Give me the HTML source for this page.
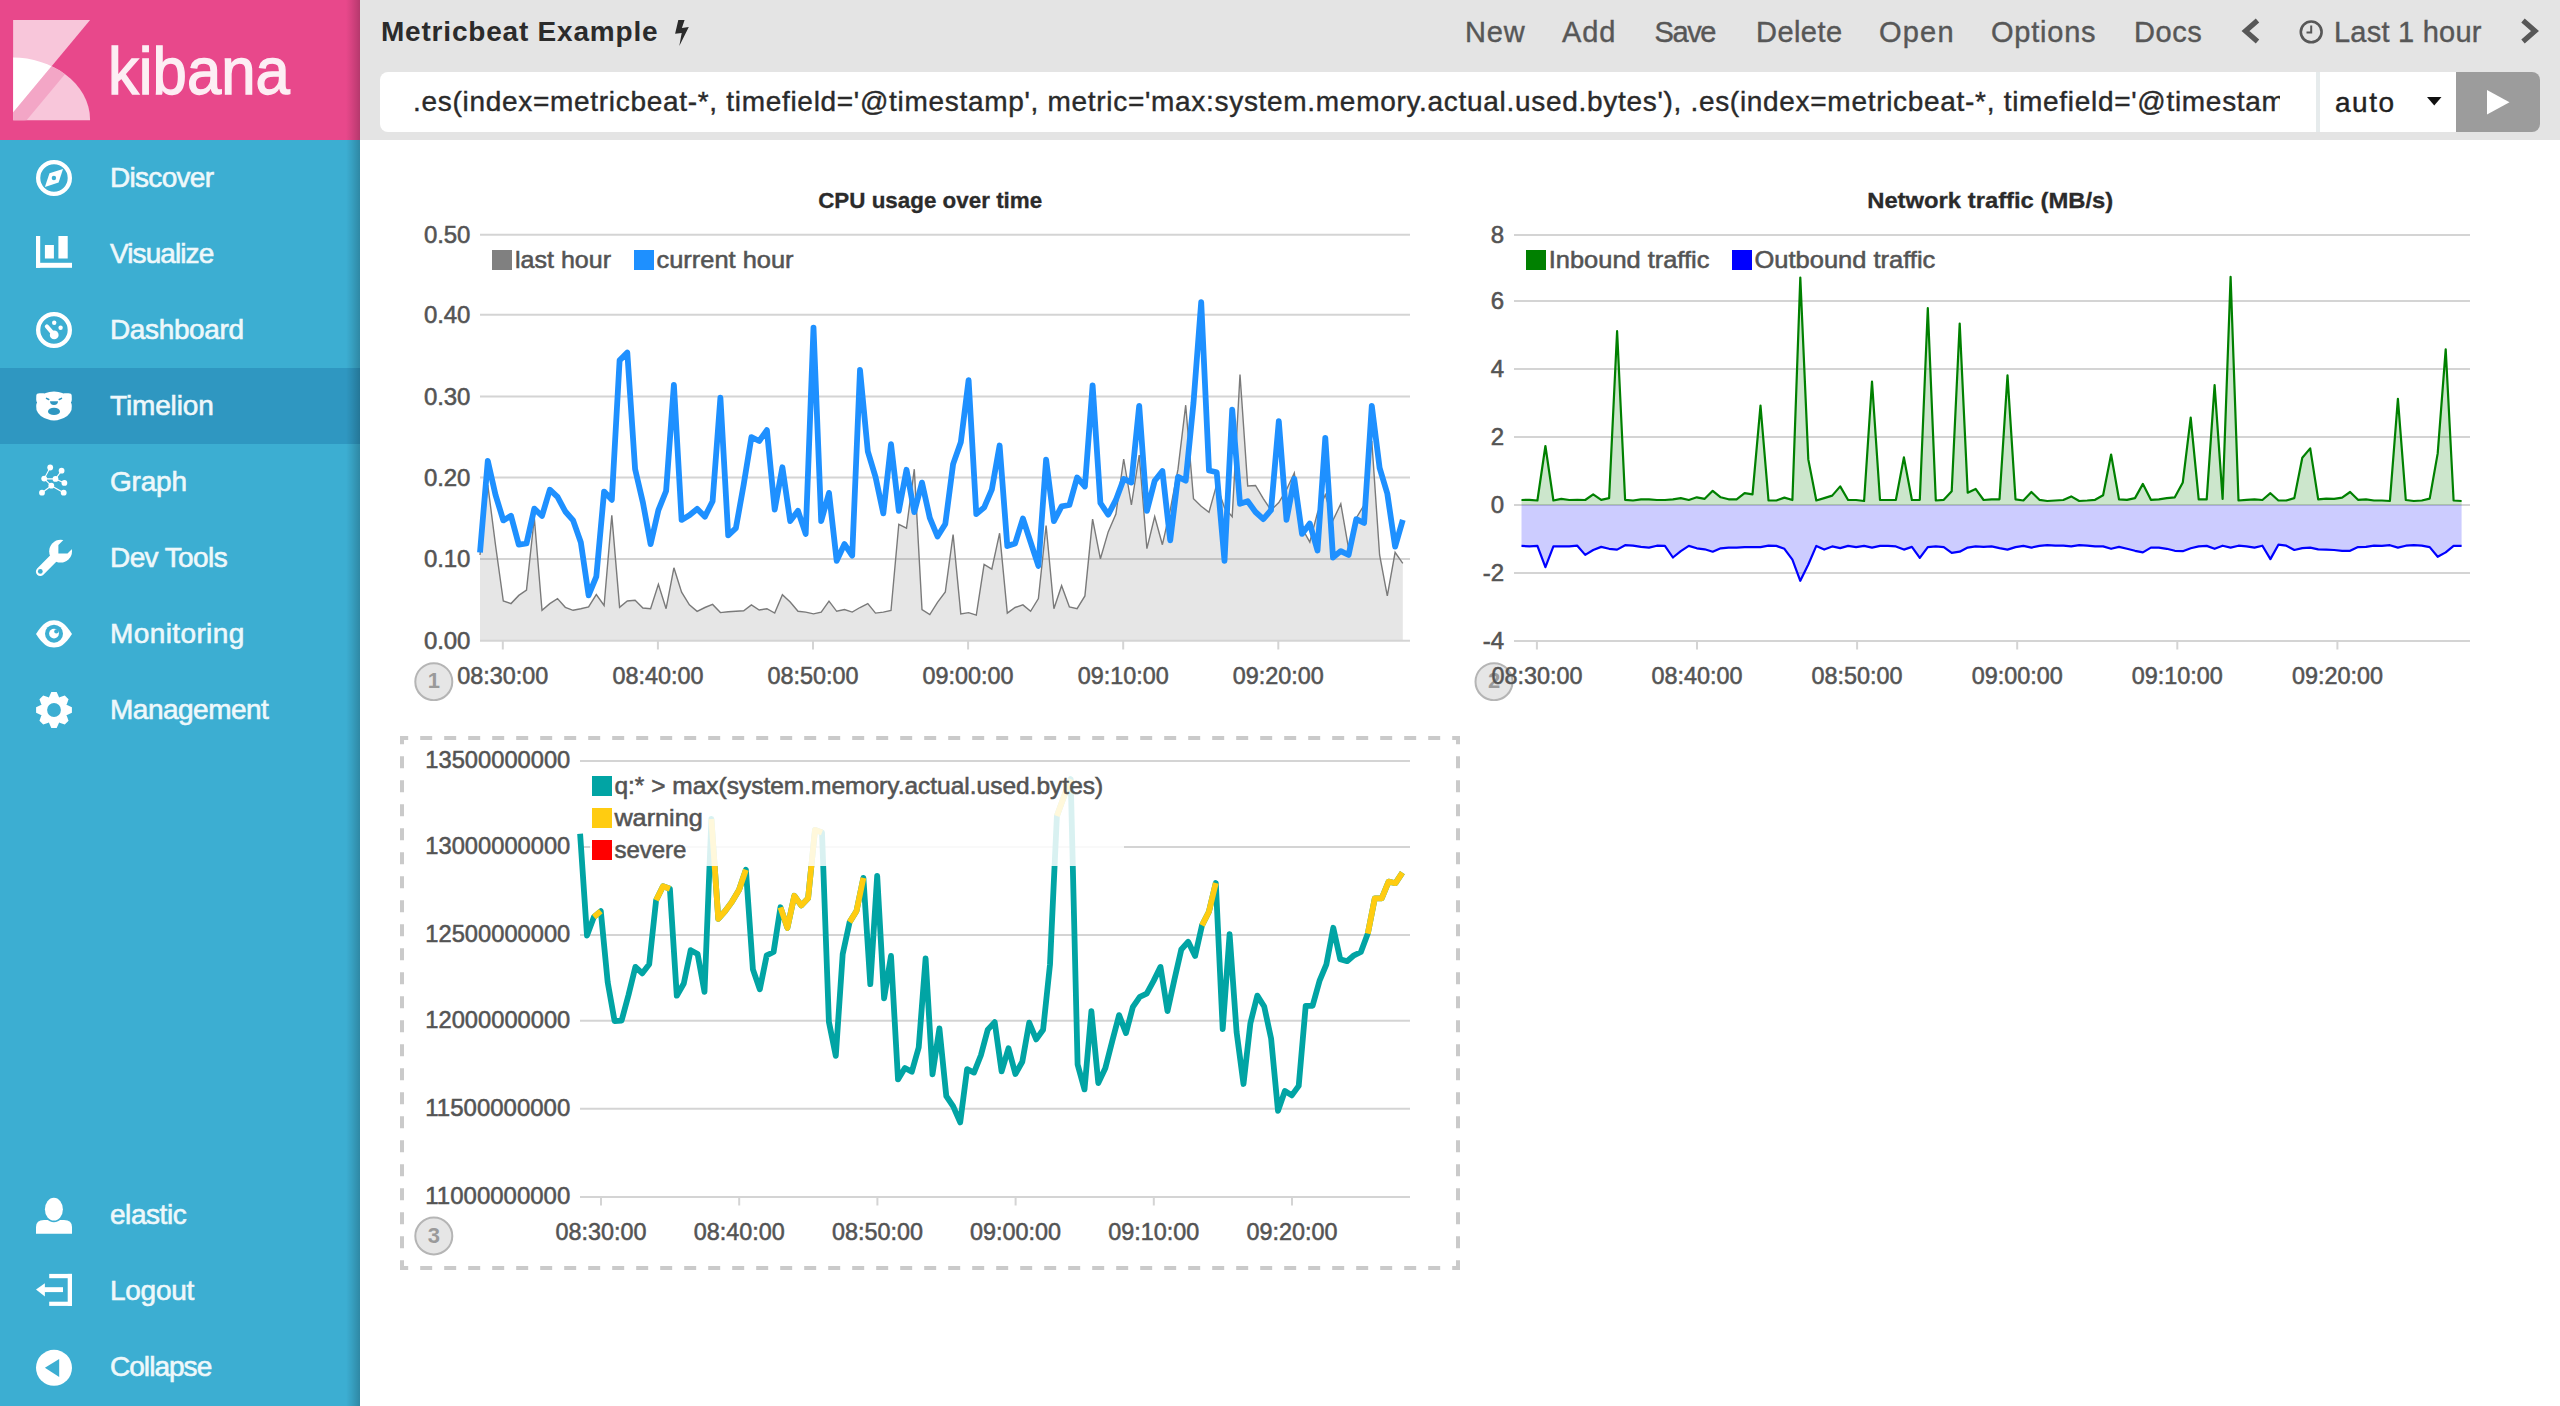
<!DOCTYPE html><html><head><meta charset="utf-8"><title>Timelion - Kibana</title><style>
*{box-sizing:border-box;margin:0;padding:0}
html,body{width:2560px;height:1406px;overflow:hidden;background:#fff;font-family:"Liberation Sans", Arial, sans-serif}
.nav{position:absolute;left:0;top:0;width:360px;height:1406px;background:#3caed2}
.nav .shadow{position:absolute;right:0;top:0;width:14px;height:1406px;background:linear-gradient(to right,rgba(0,0,0,0),rgba(0,0,0,0.08) 40%,rgba(0,0,0,0.22))}
.logo{position:absolute;left:0;top:0;width:360px;height:140px;background:#e8488b}
.logo .txt{position:absolute;left:108px;top:37.5px;font-size:66px;color:#fdeef4;letter-spacing:0px;line-height:1;-webkit-text-stroke:1.4px #fdeef4;transform:scaleX(0.935);transform-origin:0 0}
.item{position:absolute;left:0;width:360px;height:76px;color:#eef8fb;font-size:28px;letter-spacing:-1px;-webkit-text-stroke:0.6px #eef8fb}
.item.active{background:#2f97c1}
.item .lbl{position:absolute;left:110px;top:20.7px;line-height:34px;white-space:nowrap}
.item svg{position:absolute;left:36px;top:20px}
.top{position:absolute;left:360px;top:0;width:2200px;height:140px;background:#e4e4e4}
.title{position:absolute;left:381px;top:15px;font-size:28px;font-weight:bold;color:#2b2b2b;letter-spacing:0.8px;line-height:34px;white-space:nowrap}
.menu{position:absolute;top:15.2px;font-size:29px;color:#575757;-webkit-text-stroke:0.4px #575757;line-height:34px;white-space:nowrap}
.inp{position:absolute;left:380px;top:72px;width:1936px;height:60px;background:#fff;border-radius:8px 0 0 8px;overflow:hidden}
.inp .t{position:absolute;left:33px;top:13px;width:1867px;overflow:hidden;white-space:nowrap;font-size:28px;letter-spacing:0.7px;color:#2a2a2a;line-height:34px;-webkit-text-stroke:0.4px #2a2a2a}
.sep{position:absolute;left:2316px;top:72px;width:4px;height:60px;background:#e6ebec}
.sel{position:absolute;left:2320px;top:72px;width:136px;height:60px;background:#fff}
.sel .t{position:absolute;left:15px;top:14px;font-size:28px;letter-spacing:1.5px;color:#222;-webkit-text-stroke:0.4px #222;line-height:34px}
.btn{position:absolute;left:2456px;top:72px;width:84px;height:60px;background:#9c9c9c;border-radius:0 8px 8px 0}
.ct{position:absolute;font-weight:bold;font-size:22px;color:#2b2b2b;white-space:nowrap;letter-spacing:0.2px;line-height:26px}
.yl{position:absolute;font-size:24px;color:#545454;white-space:nowrap;line-height:28px;text-align:right;letter-spacing:-0.2px}
.xl{position:absolute;font-size:24px;color:#545454;white-space:nowrap;line-height:28px;letter-spacing:-0.2px}
.lg{position:absolute;font-size:24px;color:#545454;white-space:nowrap;line-height:28px}
.sw{position:absolute;width:20px;height:20px}
.num{position:absolute;width:40px;height:40px;border-radius:50%;border:2px solid #b8b8b8;background:#e6e6e6;color:#999;font-weight:bold;font-size:22px;text-align:center;line-height:36px}
.dash{position:absolute;left:400px;top:736px;width:1060px;height:534px;border:4px dashed #cacaca}
</style></head><body>
<div class="nav">
<div class="logo"><svg style="position:absolute;left:0;top:0" width="100" height="130" viewBox="0 0 100 130">
<defs><clipPath id="arc"><path d="M13.1,57.6 C50,57.6 90.1,82 90.1,120.2 L13.1,120.2 Z"/></clipPath></defs>
<polygon points="13.1,20 90.1,20 13.1,112.4" fill="#f8c6da"/>
<path d="M13.1,57.6 C50,57.6 90.1,82 90.1,120.2 L13.1,120.2 Z" fill="#f8c6da"/>
<g clip-path="url(#arc)"><polygon points="13.1,20 90.1,20 13.1,112.4" fill="#ffffff"/>
<polygon points="90.1,20 13.1,112.4 13.1,125 26.6,120.2 103.6,27.8" fill="#f3a6c6"/></g>
</svg><div class="txt">kibana</div></div>
<div class="item" style="top:140px"><svg width="36" height="36" viewBox="0 0 36 36" style="top:20px;overflow:visible"><circle cx="18" cy="18" r="15.85" fill="none" stroke="#ffffff" stroke-width="4.3"/><polygon points="27,9.1 22.6,22.5 8.9,27 13.5,13.2" fill="#ffffff"/><circle cx="17.9" cy="18" r="2.2" fill="#3caed2"/></svg><div class="lbl" style="letter-spacing:-0.7px">Discover</div></div>
<div class="item" style="top:216px"><svg width="36" height="36" viewBox="0 0 36 36" style="top:20px;overflow:visible"><rect x="0" y="0" width="4.2" height="31.8" fill="#ffffff"/><rect x="0" y="26.8" width="36" height="5" fill="#ffffff"/><rect x="8.9" y="9" width="9" height="13.5" fill="#ffffff"/><rect x="22.4" y="0" width="9.3" height="22.5" fill="#ffffff"/></svg><div class="lbl" style="letter-spacing:-0.91px">Visualize</div></div>
<div class="item" style="top:292px"><svg width="36" height="36" viewBox="0 0 36 36" style="top:20px;overflow:visible"><circle cx="18" cy="18" r="15.85" fill="none" stroke="#ffffff" stroke-width="4.3"/><line x1="10.8" y1="14.4" x2="18.2" y2="22.9" stroke="#ffffff" stroke-width="4" stroke-linecap="round"/><circle cx="18.2" cy="22.9" r="4.4" fill="#ffffff"/><circle cx="18.2" cy="10.8" r="2.2" fill="#ffffff"/><circle cx="24.6" cy="15.8" r="2.2" fill="#ffffff"/></svg><div class="lbl" style="letter-spacing:-0.37px">Dashboard</div></div>
<div class="item active" style="top:368px"><svg width="36" height="36" viewBox="0 0 36 36" style="top:20px;overflow:visible"><path d="M0.3,7.5 Q0.5,5.2 3.5,5.2 L7.5,5.3 Q9,5.7 9.8,5 Q13,3.4 18,3.4 Q23,3.4 26.2,5 Q27,5.7 28.5,5.3 L32.5,5.2 Q35.5,5.2 35.7,7.5 L35.8,11.5 Q35.8,13.5 34.9,14.5 Q35.8,15.5 35.8,18 L35.5,22 Q33,28.5 25,31 Q21,32.5 18,32.6 Q15,32.5 11,31 Q3,28.5 0.5,22 L0.2,18 Q0.2,15.5 1.1,14.5 Q0.2,13.5 0.2,11.5 Z" fill="#ffffff"/><path d="M10.5,10.3 L12.8,11.5" stroke="#2f97c1" stroke-width="1.5" stroke-linecap="round"/><path d="M25.5,10.3 L23.2,11.5" stroke="#2f97c1" stroke-width="1.5" stroke-linecap="round"/><path d="M14,13.2 L22,13.2 Q22,16.8 18,17 Q14,16.8 14,13.2 Z" fill="#2f97c1"/><ellipse cx="18" cy="23.4" rx="6" ry="3.6" fill="#2f97c1"/></svg><div class="lbl" style="letter-spacing:-0.14px">Timelion</div></div>
<div class="item" style="top:444px"><svg width="36" height="36" viewBox="0 0 36 36" style="top:20px;overflow:visible"><g stroke="#ffffff" stroke-width="1.1" fill="none"><path d="M14.2,3.5 L8.2,14.6 L15.3,21.7 M8.2,14.6 L19.5,14.9 L25.6,6.7 M19.5,14.9 L28.4,18.9 M15.3,21.7 L6,28.7 M15.3,21.7 L27.7,28.7"/></g><g fill="#ffffff"><circle cx="14.2" cy="3.5" r="2.9"/><circle cx="25.6" cy="6.7" r="2.9"/><circle cx="8.2" cy="14.6" r="2.9"/><circle cx="19.5" cy="14.9" r="2.9"/><circle cx="28.4" cy="18.9" r="2.9"/><circle cx="15.3" cy="21.7" r="2.9"/><circle cx="6" cy="28.7" r="2.9"/><circle cx="27.7" cy="28.7" r="2.9"/></g></svg><div class="lbl" style="letter-spacing:-0.2px">Graph</div></div>
<div class="item" style="top:520px"><svg width="36" height="36" viewBox="0 0 36 36" style="top:20px;overflow:visible"><defs><mask id="wm" maskUnits="userSpaceOnUse" x="-10" y="-10" width="60" height="60"><rect x="-10" y="-10" width="60" height="60" fill="#fff"/><polygon points="22.4,5 22.4,13.5 31.5,13.5 46.5,-1.5 37.4,-10" fill="#000"/><circle cx="4.3" cy="31.4" r="2.4" fill="#000"/></mask></defs><g mask="url(#wm)"><circle cx="24.6" cy="11.2" r="11.4" fill="#ffffff"/><line x1="24.6" y1="11.2" x2="4.3" y2="31.6" stroke="#ffffff" stroke-width="8.8" stroke-linecap="round"/></g></svg><div class="lbl" style="letter-spacing:-0.59px">Dev Tools</div></div>
<div class="item" style="top:596px"><svg width="36" height="36" viewBox="0 0 36 36" style="top:20px;overflow:visible"><path d="M0,18 C7,7 12,4.2 18,4.2 C24,4.2 29,7 36,18 C29,29 24,31.5 18,31.5 C12,31.5 7,29 0,18 Z" fill="#ffffff"/><circle cx="18" cy="17.7" r="9" fill="#3caed2"/><circle cx="18" cy="17.6" r="4.9" fill="#ffffff"/><circle cx="20.3" cy="15.4" r="2.1" fill="#3caed2"/></svg><div class="lbl" style="letter-spacing:0.39px">Monitoring</div></div>
<div class="item" style="top:672px"><svg width="36" height="36" viewBox="0 0 36 36" style="top:20px;overflow:visible"><path d="M13.31,4.38 L15.32,0.10 L20.68,0.10 L22.69,4.38 L23.13,5.62 L24.31,5.06 L28.77,3.45 L32.55,7.23 L30.94,11.69 L30.38,12.87 L31.62,13.31 L35.90,15.32 L35.90,20.68 L31.62,22.69 L30.38,23.13 L30.94,24.31 L32.55,28.77 L28.77,32.55 L24.31,30.94 L23.13,30.38 L22.69,31.62 L20.68,35.90 L15.32,35.90 L13.31,31.62 L12.87,30.38 L11.69,30.94 L7.23,32.55 L3.45,28.77 L5.06,24.31 L5.62,23.13 L4.38,22.69 L0.10,20.68 L0.10,15.32 L4.38,13.31 L5.62,12.87 L5.06,11.69 L3.45,7.23 L7.23,3.45 L11.69,5.06 L12.87,5.62 Z" fill="#ffffff"/><circle cx="18" cy="18" r="6.9" fill="#3caed2"/></svg><div class="lbl" style="letter-spacing:-0.51px">Management</div></div>
<div class="item" style="top:1176px"><svg width="36" height="36" viewBox="0 0 36 36" style="top:20px;overflow:visible"><path d="M0,37.8 L0,31 Q0,23.9 8,23.9 L28,23.9 Q36,23.9 36,31 L36,37.8 Z" fill="#ffffff"/><ellipse cx="17.9" cy="13.2" rx="10.6" ry="13" fill="#3caed2"/><ellipse cx="17.9" cy="13.2" rx="9" ry="11.4" fill="#ffffff"/></svg><div class="lbl" style="letter-spacing:-0.45px;top:22px">elastic</div></div>
<div class="item" style="top:1252px"><svg width="36" height="36" viewBox="0 0 36 36" style="top:20px;overflow:visible"><rect x="13.2" y="1.9" width="22.8" height="4.3" fill="#ffffff"/><rect x="31.7" y="1.9" width="4.3" height="32" fill="#ffffff"/><rect x="13.2" y="29.7" width="22.8" height="4.2" fill="#ffffff"/><rect x="8.2" y="15.2" width="18.8" height="4.9" fill="#ffffff"/><polygon points="0,17.6 8.9,11.2 8.9,24.4" fill="#ffffff"/></svg><div class="lbl" style="letter-spacing:-0.26px;top:22px">Logout</div></div>
<div class="item" style="top:1328px"><svg width="36" height="36" viewBox="0 0 36 36" style="top:20px;overflow:visible"><circle cx="18" cy="19.8" r="18" fill="#ffffff"/><polygon points="8.9,19.8 23.2,11 23.2,29.1" fill="#3caed2"/></svg><div class="lbl" style="letter-spacing:-0.96px;top:22px">Collapse</div></div>
<div class="shadow"></div></div>
<div class="top"></div>
<div class="title">Metricbeat Example</div>
<svg style="position:absolute;left:0;top:0" width="700" height="50"><polygon points="678.3,20.1 684.6,20.1 681.9,28 688.8,27.1 679.3,45.9 681.7,32.9 675.1,33.7" fill="#2b2b2b"/></svg>
<div class="menu" style="left:1465px;letter-spacing:0.9px">New</div>
<div class="menu" style="left:1562px;letter-spacing:0.9px">Add</div>
<div class="menu" style="left:1654.5px;letter-spacing:-1.4px">Save</div>
<div class="menu" style="left:1756px;letter-spacing:0.44px">Delete</div>
<div class="menu" style="left:1879px;letter-spacing:1.2px">Open</div>
<div class="menu" style="left:1991px;letter-spacing:0.77px">Options</div>
<div class="menu" style="left:2134px;letter-spacing:0.6px">Docs</div>
<div class="menu" style="left:2334px;letter-spacing:0.24px">Last 1 hour</div>
<svg style="position:absolute;left:2230px;top:10px" width="320" height="45">
<polyline points="27.5,10.5 15.5,21 27.5,31.5" fill="none" stroke="#575757" stroke-width="5.2"/>
<circle cx="81.2" cy="21.9" r="10.4" fill="none" stroke="#575757" stroke-width="2.6"/>
<polyline points="81.2,15.5 81.2,22.5 76.5,22.5" fill="none" stroke="#575757" stroke-width="2"/>
<polyline points="293,10.5 305,21 293,31.5" fill="none" stroke="#575757" stroke-width="5.2"/>
</svg>
<div class="inp"><div class="t">.es(index=metricbeat-*, timefield='@timestamp', metric='max:system.memory.actual.used.bytes'), .es(index=metricbeat-*, timefield='@timestamp', metric='max:system.memory.actual.used.bytes').label('warning')</div></div>
<div class="sep"></div><div class="sel"><div class="t">auto</div></div>
<svg style="position:absolute;left:2427px;top:97px" width="15" height="9"><path d="M0,0 L14.5,0 L7.25,8.5 Z" fill="#111"/></svg>
<div class="btn"></div>
<svg style="position:absolute;left:2487px;top:90px" width="23" height="25"><path d="M0,0 L22.5,12.2 L0,24.4 Z" fill="#fff"/></svg>
<svg style="position:absolute;left:0;top:0" width="2560" height="1406" viewBox="0 0 2560 1406" font-family="Liberation Sans, Arial, sans-serif">
<defs><clipPath id="cc"><rect x="0" y="0" width="2560" height="701"/></clipPath></defs>
<g clip-path="url(#cc)"><circle cx="433.8" cy="681.7" r="18.5" fill="#e6e6e6" stroke="#b5b5b5" stroke-width="2"/><text x="433.8" y="688.2" font-size="22" fill="#9a9a9a" text-anchor="middle" font-weight="bold">1</text><circle cx="1494" cy="681.7" r="18.5" fill="#e6e6e6" stroke="#b5b5b5" stroke-width="2"/><text x="1494" y="688.2" font-size="22" fill="#9a9a9a" text-anchor="middle" font-weight="bold">2</text></g>
<circle cx="433.8" cy="1236" r="18.5" fill="#e6e6e6" stroke="#b5b5b5" stroke-width="2"/><text x="433.8" y="1242.5" font-size="22" fill="#9a9a9a" text-anchor="middle" font-weight="bold">3</text>
<line x1="480" y1="234.8" x2="1410" y2="234.8" stroke="#d4d4d4" stroke-width="2"/>
<line x1="480" y1="314.7" x2="1410" y2="314.7" stroke="#d4d4d4" stroke-width="2"/>
<line x1="480" y1="396.4" x2="1410" y2="396.4" stroke="#d4d4d4" stroke-width="2"/>
<line x1="480" y1="477.6" x2="1410" y2="477.6" stroke="#d4d4d4" stroke-width="2"/>
<line x1="480" y1="559" x2="1410" y2="559" stroke="#d4d4d4" stroke-width="2"/>
<path d="M480,640.7 L480,555 487.8,485 495.5,545 503.3,601 511,603.6 518.8,595.4 526.5,590.1 534.3,517.7 542,610.3 549.8,603.6 557.5,598.6 565.3,607.3 573.1,610.3 580.8,608.8 588.6,606.9 596.3,594.6 604.1,605.5 611.8,515.4 619.6,607.3 627.3,601 635.1,600.3 642.9,608 650.6,608.7 658.4,584.4 666.1,608.7 673.9,567.8 681.6,592.1 689.4,604.9 697.1,611.3 704.9,607.5 712.6,604.4 720.4,612.6 728.2,611.8 735.9,611.3 743.7,610.8 751.4,604.9 759.2,610 766.9,608.7 774.7,613.1 782.4,594.7 790.2,602 798,611.3 805.7,612.1 813.5,613.9 821.2,612.1 829,601.1 836.7,611.3 844.5,609.5 852.2,612.1 860,607.5 867.8,603.6 875.5,613.1 883.3,612.1 891,610.5 898.8,524.3 906.5,528.1 914.3,469.2 922,609.5 929.8,614.6 937.5,602.3 945.3,592 953.1,534.5 960.8,613.9 968.6,612.6 976.3,615.1 984.1,564.5 991.8,569.1 999.6,533.2 1007.3,613.1 1015.1,607.5 1022.9,604.9 1030.6,611.3 1038.4,598.5 1046.1,525.5 1053.9,608.7 1061.6,585.7 1069.4,606.9 1077.1,608.7 1084.9,595.9 1092.6,519.1 1100.4,558.8 1108.2,531.9 1115.9,514 1123.7,459 1131.4,505 1139.2,455 1146.9,548.6 1154.7,516.6 1162.4,544.7 1170.2,510.2 1178,469.2 1185.7,405.2 1193.5,498.7 1201.2,506.3 1209,512.2 1216.7,484.6 1224.5,507.6 1232.2,516.6 1240,374.5 1247.7,485.9 1255.5,485.5 1263.3,498.7 1271,510.2 1278.8,502.5 1286.5,489.7 1294.3,473 1302,528.1 1309.8,542.2 1317.5,512.7 1325.3,494.8 1333,520.4 1340.8,503.8 1348.6,548.6 1356.3,517.9 1364.1,505 1371.8,441 1379.6,555 1387.3,595.9 1395.1,552.4 1402.8,563.4 L1402.8,640.7 Z" fill="#808080" fill-opacity="0.2"/>
<polyline points="480,555 487.8,485 495.5,545 503.3,601 511,603.6 518.8,595.4 526.5,590.1 534.3,517.7 542,610.3 549.8,603.6 557.5,598.6 565.3,607.3 573.1,610.3 580.8,608.8 588.6,606.9 596.3,594.6 604.1,605.5 611.8,515.4 619.6,607.3 627.3,601 635.1,600.3 642.9,608 650.6,608.7 658.4,584.4 666.1,608.7 673.9,567.8 681.6,592.1 689.4,604.9 697.1,611.3 704.9,607.5 712.6,604.4 720.4,612.6 728.2,611.8 735.9,611.3 743.7,610.8 751.4,604.9 759.2,610 766.9,608.7 774.7,613.1 782.4,594.7 790.2,602 798,611.3 805.7,612.1 813.5,613.9 821.2,612.1 829,601.1 836.7,611.3 844.5,609.5 852.2,612.1 860,607.5 867.8,603.6 875.5,613.1 883.3,612.1 891,610.5 898.8,524.3 906.5,528.1 914.3,469.2 922,609.5 929.8,614.6 937.5,602.3 945.3,592 953.1,534.5 960.8,613.9 968.6,612.6 976.3,615.1 984.1,564.5 991.8,569.1 999.6,533.2 1007.3,613.1 1015.1,607.5 1022.9,604.9 1030.6,611.3 1038.4,598.5 1046.1,525.5 1053.9,608.7 1061.6,585.7 1069.4,606.9 1077.1,608.7 1084.9,595.9 1092.6,519.1 1100.4,558.8 1108.2,531.9 1115.9,514 1123.7,459 1131.4,505 1139.2,455 1146.9,548.6 1154.7,516.6 1162.4,544.7 1170.2,510.2 1178,469.2 1185.7,405.2 1193.5,498.7 1201.2,506.3 1209,512.2 1216.7,484.6 1224.5,507.6 1232.2,516.6 1240,374.5 1247.7,485.9 1255.5,485.5 1263.3,498.7 1271,510.2 1278.8,502.5 1286.5,489.7 1294.3,473 1302,528.1 1309.8,542.2 1317.5,512.7 1325.3,494.8 1333,520.4 1340.8,503.8 1348.6,548.6 1356.3,517.9 1364.1,505 1371.8,441 1379.6,555 1387.3,595.9 1395.1,552.4 1402.8,563.4" fill="none" stroke="#7a7a7a" stroke-width="1.4" stroke-linejoin="miter"/>
<line x1="480" y1="640.7" x2="1410" y2="640.7" stroke="#d4d4d4" stroke-width="2"/>
<line x1="502.8" y1="640.7" x2="502.8" y2="649.5" stroke="#d4d4d4" stroke-width="2"/>
<line x1="657.9" y1="640.7" x2="657.9" y2="649.5" stroke="#d4d4d4" stroke-width="2"/>
<line x1="813" y1="640.7" x2="813" y2="649.5" stroke="#d4d4d4" stroke-width="2"/>
<line x1="968.1" y1="640.7" x2="968.1" y2="649.5" stroke="#d4d4d4" stroke-width="2"/>
<line x1="1123.2" y1="640.7" x2="1123.2" y2="649.5" stroke="#d4d4d4" stroke-width="2"/>
<line x1="1278.3" y1="640.7" x2="1278.3" y2="649.5" stroke="#d4d4d4" stroke-width="2"/>
<polyline points="480,552.4 487.8,460.8 495.5,494.8 503.3,520.4 511,515.8 518.8,544.7 526.5,543.5 534.3,508.7 542,516 549.8,489.7 557.5,496.9 565.3,511.5 573.1,520.4 580.8,542.2 588.6,595.3 596.3,576.7 604.1,491.6 611.8,499.8 619.6,360.4 627.3,352.6 635.1,469.2 642.9,502.5 650.6,544.1 658.4,510.2 666.1,491 673.9,384.8 681.6,519.9 689.4,515.3 697.1,508.9 704.9,516.6 712.6,501.2 720.4,397.6 728.2,535.3 735.9,528.1 743.7,484.6 751.4,437.2 759.2,441 766.9,430.1 774.7,509.6 782.4,467.3 790.2,521.1 798,510.8 805.7,533.9 813.5,327.7 821.2,521.1 829,492.9 836.7,560.8 844.5,544.1 852.2,555.7 860,370 867.8,451.3 875.5,476.9 883.3,513.4 891,444.2 898.8,510.9 906.5,469.8 914.3,512.1 922,482.6 929.8,517.9 937.5,536.5 945.3,524 953.1,464.1 960.8,442.3 968.6,380.2 976.3,514 984.1,507.6 991.8,489.7 999.6,445.5 1007.3,546 1015.1,543.5 1022.9,518.5 1030.6,542.2 1038.4,565.9 1046.1,459.6 1053.9,521.1 1061.6,506.3 1069.4,505 1077.1,477.5 1084.9,486.5 1092.6,385.3 1100.4,503 1108.2,514.7 1115.9,499.9 1123.7,478.9 1131.4,482.5 1139.2,405.8 1146.9,510.9 1154.7,480.7 1162.4,471.1 1170.2,540.3 1178,476.9 1185.7,480.7 1193.5,402.6 1201.2,302.1 1209,470.5 1216.7,472.3 1224.5,560.8 1232.2,409.6 1240,503.8 1247.7,501.2 1255.5,512 1263.3,519.1 1271,510.2 1278.8,421.2 1286.5,519.8 1294.3,478.8 1302,533.9 1309.8,523.6 1317.5,550.5 1325.3,437.8 1333,557.5 1340.8,551.1 1348.6,555 1356.3,519.1 1364.1,523 1371.8,405.8 1379.6,467.9 1387.3,493.5 1395.1,546.7 1402.8,519.9" fill="none" stroke="#1e90ff" stroke-width="5.8" stroke-linejoin="round"/>
<text x="470.3" y="243" font-size="24" fill="#545454" text-anchor="end" letter-spacing="-0.1" stroke="#545454" stroke-width="0.55">0.50</text>
<text x="470.3" y="322.9" font-size="24" fill="#545454" text-anchor="end" letter-spacing="-0.1" stroke="#545454" stroke-width="0.55">0.40</text>
<text x="470.3" y="404.6" font-size="24" fill="#545454" text-anchor="end" letter-spacing="-0.1" stroke="#545454" stroke-width="0.55">0.30</text>
<text x="470.3" y="485.8" font-size="24" fill="#545454" text-anchor="end" letter-spacing="-0.1" stroke="#545454" stroke-width="0.55">0.20</text>
<text x="470.3" y="567.2" font-size="24" fill="#545454" text-anchor="end" letter-spacing="-0.1" stroke="#545454" stroke-width="0.55">0.10</text>
<text x="470.3" y="648.9" font-size="24" fill="#545454" text-anchor="end" letter-spacing="-0.1" stroke="#545454" stroke-width="0.55">0.00</text>
<text x="502.8" y="683.8" font-size="24" fill="#545454" text-anchor="middle" textLength="91" lengthAdjust="spacingAndGlyphs" stroke="#545454" stroke-width="0.55">08:30:00</text>
<text x="657.9" y="683.8" font-size="24" fill="#545454" text-anchor="middle" textLength="91" lengthAdjust="spacingAndGlyphs" stroke="#545454" stroke-width="0.55">08:40:00</text>
<text x="813" y="683.8" font-size="24" fill="#545454" text-anchor="middle" textLength="91" lengthAdjust="spacingAndGlyphs" stroke="#545454" stroke-width="0.55">08:50:00</text>
<text x="968.1" y="683.8" font-size="24" fill="#545454" text-anchor="middle" textLength="91" lengthAdjust="spacingAndGlyphs" stroke="#545454" stroke-width="0.55">09:00:00</text>
<text x="1123.2" y="683.8" font-size="24" fill="#545454" text-anchor="middle" textLength="91" lengthAdjust="spacingAndGlyphs" stroke="#545454" stroke-width="0.55">09:10:00</text>
<text x="1278.3" y="683.8" font-size="24" fill="#545454" text-anchor="middle" textLength="91" lengthAdjust="spacingAndGlyphs" stroke="#545454" stroke-width="0.55">09:20:00</text>
<text x="930.2" y="207.6" font-size="22" fill="#2b2b2b" text-anchor="middle" font-weight="bold" textLength="224" lengthAdjust="spacingAndGlyphs" stroke="#2b2b2b" stroke-width="0.3">CPU usage over time</text>
<rect x="492" y="250" width="20" height="20" fill="#808080"/>
<text x="515" y="268.4" font-size="24" fill="#545454" textLength="96" lengthAdjust="spacingAndGlyphs" stroke="#545454" stroke-width="0.55">last hour</text>
<rect x="634" y="250" width="20" height="20" fill="#1e90ff"/>
<text x="656.5" y="268.4" font-size="24" fill="#545454" textLength="137" lengthAdjust="spacingAndGlyphs" stroke="#545454" stroke-width="0.55">current hour</text>
<line x1="1514" y1="235" x2="2470" y2="235" stroke="#d4d4d4" stroke-width="2"/>
<line x1="1514" y1="301" x2="2470" y2="301" stroke="#d4d4d4" stroke-width="2"/>
<line x1="1514" y1="369" x2="2470" y2="369" stroke="#d4d4d4" stroke-width="2"/>
<line x1="1514" y1="437" x2="2470" y2="437" stroke="#d4d4d4" stroke-width="2"/>
<line x1="1514" y1="505" x2="2470" y2="505" stroke="#d4d4d4" stroke-width="2"/>
<line x1="1514" y1="573" x2="2470" y2="573" stroke="#d4d4d4" stroke-width="2"/>
<line x1="1514" y1="641" x2="2470" y2="641" stroke="#d4d4d4" stroke-width="2"/>
<path d="M1521.5,505 L1521.5,500 1529.5,499.8 1537.4,500.5 1545.4,446 1553.4,500.5 1561.3,498.8 1569.3,500 1577.3,499.8 1585.2,500 1593.2,494.4 1601.2,499.8 1609.1,498.1 1617.1,331.2 1625.1,499.8 1633,500.5 1641,499.3 1649,499.3 1656.9,500 1664.9,500 1672.9,499.3 1680.8,498.1 1688.8,500 1696.8,497.3 1704.7,498.8 1712.7,490.8 1720.7,497.3 1728.6,499.3 1736.6,499.3 1744.6,493.2 1752.5,494.4 1760.5,405.6 1768.5,500.5 1776.4,500.5 1784.4,497.6 1792.4,500 1800.3,277.5 1808.3,459.4 1816.3,500.5 1824.2,498.1 1832.2,495.6 1840.2,486.4 1848.1,500 1856.1,500 1864.1,501 1872,381.5 1880,500 1888,500 1895.9,499.8 1903.9,457.4 1911.9,500 1919.8,499.8 1927.8,308.2 1935.8,500.5 1943.8,499.8 1951.7,491.3 1959.7,323.5 1967.7,492.7 1975.6,488.9 1983.6,500 1991.6,499.3 1999.5,499.3 2007.5,375.4 2015.5,499.3 2023.4,500.5 2031.4,492 2039.4,499.8 2047.3,501 2055.3,500.5 2063.3,500 2071.2,496.4 2079.2,501 2087.2,500.5 2095.1,499.8 2103.1,495.2 2111.1,454.5 2119,499.3 2127,499.8 2135,498.1 2142.9,483.9 2150.9,499.8 2158.9,499.3 2166.8,498.1 2174.8,497.3 2182.8,482.4 2190.7,417.7 2198.7,499.3 2206.7,499.3 2214.6,385.1 2222.6,498.9 2230.6,276.8 2238.5,500.5 2246.5,499.8 2254.5,499.3 2262.4,500 2270.4,493.2 2278.4,500.5 2286.3,500.5 2294.3,498.1 2302.3,457.7 2310.2,448.4 2318.2,499.3 2326.2,498.6 2334.1,498.8 2342.1,497.6 2350.1,492 2358,499.8 2366,499.3 2374,500.5 2381.9,500.5 2389.9,501 2397.9,398.9 2405.8,500 2413.8,501 2421.8,500.5 2429.7,498.6 2437.7,453.4 2445.7,349.3 2453.6,500.5 2461.6,501 L2461.6,505 Z" fill="#008000" fill-opacity="0.2"/>
<path d="M1521.5,505 L1521.5,545.9 1529.5,546.4 1537.4,545.9 1545.4,567.1 1553.4,546.4 1561.3,546.4 1569.3,546.4 1577.3,545.7 1585.2,554.9 1593.2,550 1601.2,546.9 1609.1,548.8 1617.1,549.6 1625.1,545.2 1633,545.7 1641,546.9 1649,547.6 1656.9,545.7 1664.9,545.9 1672.9,557.5 1680.8,551.2 1688.8,545.9 1696.8,548.3 1704.7,549.3 1712.7,551.7 1720.7,548.3 1728.6,547.6 1736.6,547.6 1744.6,547.1 1752.5,547.1 1760.5,547.1 1768.5,545.7 1776.4,545.9 1784.4,548.8 1792.4,559.7 1800.3,580.8 1808.3,564.5 1816.3,545.9 1824.2,549.6 1832.2,546.4 1840.2,548.1 1848.1,545.9 1856.1,547.1 1864.1,545.9 1872,547.6 1880,545.9 1888,545.9 1895.9,546.4 1903.9,549.6 1911.9,546.9 1919.8,557.9 1927.8,547.1 1935.8,546.4 1943.8,547.1 1951.7,552.9 1959.7,551.7 1967.7,547.6 1975.6,546.4 1983.6,546.9 1991.6,546.4 1999.5,548.1 2007.5,549.6 2015.5,547.1 2023.4,545.9 2031.4,547.6 2039.4,545.9 2047.3,545.2 2055.3,545.7 2063.3,545.7 2071.2,546.4 2079.2,545.2 2087.2,545.7 2095.1,546.4 2103.1,546.4 2111.1,548.8 2119,546.9 2127,548.8 2135,550.8 2142.9,552.4 2150.9,547.6 2158.9,547.6 2166.8,548.8 2174.8,550.8 2182.8,551.2 2190.7,548.3 2198.7,546.4 2206.7,545.9 2214.6,548.8 2222.6,545.7 2230.6,547.6 2238.5,545.7 2246.5,546.4 2254.5,547.6 2262.4,545.7 2270.4,559.1 2278.4,544.7 2286.3,545.7 2294.3,550 2302.3,548.1 2310.2,547.6 2318.2,549.3 2326.2,549.6 2334.1,550 2342.1,550.8 2350.1,550.8 2358,547.1 2366,546.9 2374,545.7 2381.9,545.9 2389.9,545.2 2397.9,547.6 2405.8,545.7 2413.8,545.2 2421.8,545.7 2429.7,547.1 2437.7,556.8 2445.7,552.4 2453.6,545.9 2461.6,545.9 L2461.6,505 Z" fill="#0000ff" fill-opacity="0.2"/>
<polyline points="1521.5,500 1529.5,499.8 1537.4,500.5 1545.4,446 1553.4,500.5 1561.3,498.8 1569.3,500 1577.3,499.8 1585.2,500 1593.2,494.4 1601.2,499.8 1609.1,498.1 1617.1,331.2 1625.1,499.8 1633,500.5 1641,499.3 1649,499.3 1656.9,500 1664.9,500 1672.9,499.3 1680.8,498.1 1688.8,500 1696.8,497.3 1704.7,498.8 1712.7,490.8 1720.7,497.3 1728.6,499.3 1736.6,499.3 1744.6,493.2 1752.5,494.4 1760.5,405.6 1768.5,500.5 1776.4,500.5 1784.4,497.6 1792.4,500 1800.3,277.5 1808.3,459.4 1816.3,500.5 1824.2,498.1 1832.2,495.6 1840.2,486.4 1848.1,500 1856.1,500 1864.1,501 1872,381.5 1880,500 1888,500 1895.9,499.8 1903.9,457.4 1911.9,500 1919.8,499.8 1927.8,308.2 1935.8,500.5 1943.8,499.8 1951.7,491.3 1959.7,323.5 1967.7,492.7 1975.6,488.9 1983.6,500 1991.6,499.3 1999.5,499.3 2007.5,375.4 2015.5,499.3 2023.4,500.5 2031.4,492 2039.4,499.8 2047.3,501 2055.3,500.5 2063.3,500 2071.2,496.4 2079.2,501 2087.2,500.5 2095.1,499.8 2103.1,495.2 2111.1,454.5 2119,499.3 2127,499.8 2135,498.1 2142.9,483.9 2150.9,499.8 2158.9,499.3 2166.8,498.1 2174.8,497.3 2182.8,482.4 2190.7,417.7 2198.7,499.3 2206.7,499.3 2214.6,385.1 2222.6,498.9 2230.6,276.8 2238.5,500.5 2246.5,499.8 2254.5,499.3 2262.4,500 2270.4,493.2 2278.4,500.5 2286.3,500.5 2294.3,498.1 2302.3,457.7 2310.2,448.4 2318.2,499.3 2326.2,498.6 2334.1,498.8 2342.1,497.6 2350.1,492 2358,499.8 2366,499.3 2374,500.5 2381.9,500.5 2389.9,501 2397.9,398.9 2405.8,500 2413.8,501 2421.8,500.5 2429.7,498.6 2437.7,453.4 2445.7,349.3 2453.6,500.5 2461.6,501" fill="none" stroke="#008000" stroke-width="2.2" stroke-linejoin="round"/>
<polyline points="1521.5,545.9 1529.5,546.4 1537.4,545.9 1545.4,567.1 1553.4,546.4 1561.3,546.4 1569.3,546.4 1577.3,545.7 1585.2,554.9 1593.2,550 1601.2,546.9 1609.1,548.8 1617.1,549.6 1625.1,545.2 1633,545.7 1641,546.9 1649,547.6 1656.9,545.7 1664.9,545.9 1672.9,557.5 1680.8,551.2 1688.8,545.9 1696.8,548.3 1704.7,549.3 1712.7,551.7 1720.7,548.3 1728.6,547.6 1736.6,547.6 1744.6,547.1 1752.5,547.1 1760.5,547.1 1768.5,545.7 1776.4,545.9 1784.4,548.8 1792.4,559.7 1800.3,580.8 1808.3,564.5 1816.3,545.9 1824.2,549.6 1832.2,546.4 1840.2,548.1 1848.1,545.9 1856.1,547.1 1864.1,545.9 1872,547.6 1880,545.9 1888,545.9 1895.9,546.4 1903.9,549.6 1911.9,546.9 1919.8,557.9 1927.8,547.1 1935.8,546.4 1943.8,547.1 1951.7,552.9 1959.7,551.7 1967.7,547.6 1975.6,546.4 1983.6,546.9 1991.6,546.4 1999.5,548.1 2007.5,549.6 2015.5,547.1 2023.4,545.9 2031.4,547.6 2039.4,545.9 2047.3,545.2 2055.3,545.7 2063.3,545.7 2071.2,546.4 2079.2,545.2 2087.2,545.7 2095.1,546.4 2103.1,546.4 2111.1,548.8 2119,546.9 2127,548.8 2135,550.8 2142.9,552.4 2150.9,547.6 2158.9,547.6 2166.8,548.8 2174.8,550.8 2182.8,551.2 2190.7,548.3 2198.7,546.4 2206.7,545.9 2214.6,548.8 2222.6,545.7 2230.6,547.6 2238.5,545.7 2246.5,546.4 2254.5,547.6 2262.4,545.7 2270.4,559.1 2278.4,544.7 2286.3,545.7 2294.3,550 2302.3,548.1 2310.2,547.6 2318.2,549.3 2326.2,549.6 2334.1,550 2342.1,550.8 2350.1,550.8 2358,547.1 2366,546.9 2374,545.7 2381.9,545.9 2389.9,545.2 2397.9,547.6 2405.8,545.7 2413.8,545.2 2421.8,545.7 2429.7,547.1 2437.7,556.8 2445.7,552.4 2453.6,545.9 2461.6,545.9" fill="none" stroke="#0000ff" stroke-width="2.2" stroke-linejoin="round"/>
<line x1="1536.9" y1="641" x2="1536.9" y2="649.5" stroke="#d4d4d4" stroke-width="2"/>
<line x1="1697" y1="641" x2="1697" y2="649.5" stroke="#d4d4d4" stroke-width="2"/>
<line x1="1857.1" y1="641" x2="1857.1" y2="649.5" stroke="#d4d4d4" stroke-width="2"/>
<line x1="2017.2" y1="641" x2="2017.2" y2="649.5" stroke="#d4d4d4" stroke-width="2"/>
<line x1="2177.3" y1="641" x2="2177.3" y2="649.5" stroke="#d4d4d4" stroke-width="2"/>
<line x1="2337.4" y1="641" x2="2337.4" y2="649.5" stroke="#d4d4d4" stroke-width="2"/>
<text x="1504" y="242.5" font-size="24" fill="#545454" text-anchor="end" stroke="#545454" stroke-width="0.55">8</text>
<text x="1504" y="308.5" font-size="24" fill="#545454" text-anchor="end" stroke="#545454" stroke-width="0.55">6</text>
<text x="1504" y="376.5" font-size="24" fill="#545454" text-anchor="end" stroke="#545454" stroke-width="0.55">4</text>
<text x="1504" y="444.5" font-size="24" fill="#545454" text-anchor="end" stroke="#545454" stroke-width="0.55">2</text>
<text x="1504" y="512.5" font-size="24" fill="#545454" text-anchor="end" stroke="#545454" stroke-width="0.55">0</text>
<text x="1504" y="580.5" font-size="24" fill="#545454" text-anchor="end" stroke="#545454" stroke-width="0.55">-2</text>
<text x="1504" y="648.5" font-size="24" fill="#545454" text-anchor="end" stroke="#545454" stroke-width="0.55">-4</text>
<text x="1536.9" y="684.2" font-size="24" fill="#545454" text-anchor="middle" textLength="91" lengthAdjust="spacingAndGlyphs" stroke="#545454" stroke-width="0.55">08:30:00</text>
<text x="1697" y="684.2" font-size="24" fill="#545454" text-anchor="middle" textLength="91" lengthAdjust="spacingAndGlyphs" stroke="#545454" stroke-width="0.55">08:40:00</text>
<text x="1857.1" y="684.2" font-size="24" fill="#545454" text-anchor="middle" textLength="91" lengthAdjust="spacingAndGlyphs" stroke="#545454" stroke-width="0.55">08:50:00</text>
<text x="2017.2" y="684.2" font-size="24" fill="#545454" text-anchor="middle" textLength="91" lengthAdjust="spacingAndGlyphs" stroke="#545454" stroke-width="0.55">09:00:00</text>
<text x="2177.3" y="684.2" font-size="24" fill="#545454" text-anchor="middle" textLength="91" lengthAdjust="spacingAndGlyphs" stroke="#545454" stroke-width="0.55">09:10:00</text>
<text x="2337.4" y="684.2" font-size="24" fill="#545454" text-anchor="middle" textLength="91" lengthAdjust="spacingAndGlyphs" stroke="#545454" stroke-width="0.55">09:20:00</text>
<text x="1990.2" y="207.6" font-size="22" fill="#2b2b2b" text-anchor="middle" font-weight="bold" textLength="246" lengthAdjust="spacingAndGlyphs" stroke="#2b2b2b" stroke-width="0.3">Network traffic (MB/s)</text>
<rect x="1526" y="250" width="20" height="20" fill="#008000"/>
<text x="1548.8" y="268.4" font-size="24" fill="#545454" textLength="160.6" lengthAdjust="spacingAndGlyphs" stroke="#545454" stroke-width="0.55">Inbound traffic</text>
<rect x="1732" y="250" width="20" height="20" fill="#0000ff"/>
<text x="1754.5" y="268.4" font-size="24" fill="#545454" textLength="180.8" lengthAdjust="spacingAndGlyphs" stroke="#545454" stroke-width="0.55">Outbound traffic</text>
<line x1="580" y1="760.9" x2="1410" y2="760.9" stroke="#d4d4d4" stroke-width="2"/>
<line x1="580" y1="847" x2="1410" y2="847" stroke="#d4d4d4" stroke-width="2"/>
<line x1="580" y1="934.9" x2="1410" y2="934.9" stroke="#d4d4d4" stroke-width="2"/>
<line x1="580" y1="1020.8" x2="1410" y2="1020.8" stroke="#d4d4d4" stroke-width="2"/>
<line x1="580" y1="1108.8" x2="1410" y2="1108.8" stroke="#d4d4d4" stroke-width="2"/>
<line x1="580" y1="1196.9" x2="1410" y2="1196.9" stroke="#d4d4d4" stroke-width="2"/>
<line x1="601" y1="1196.9" x2="601" y2="1205.5" stroke="#d4d4d4" stroke-width="2"/>
<line x1="739.2" y1="1196.9" x2="739.2" y2="1205.5" stroke="#d4d4d4" stroke-width="2"/>
<line x1="877.4" y1="1196.9" x2="877.4" y2="1205.5" stroke="#d4d4d4" stroke-width="2"/>
<line x1="1015.6" y1="1196.9" x2="1015.6" y2="1205.5" stroke="#d4d4d4" stroke-width="2"/>
<line x1="1153.8" y1="1196.9" x2="1153.8" y2="1205.5" stroke="#d4d4d4" stroke-width="2"/>
<line x1="1292" y1="1196.9" x2="1292" y2="1205.5" stroke="#d4d4d4" stroke-width="2"/>
<polyline points="580.1,833.8 587,935.5 593.9,917 600.8,911.1 607.7,982.2 614.6,1021.1 621.6,1020.6 628.5,995 635.4,966.9 642.3,973.3 649.2,964.3 656.1,900.3 663,886.2 669.9,888.8 676.8,995.7 683.8,983.5 690.7,950.2 697.6,954.1 704.5,991.9 711.4,819 718.3,918.9 725.2,911 732.1,901.6 739,890 745.9,869.7 752.9,969.4 759.8,989.3 766.7,955.3 773.6,952 780.5,907.3 787.4,927.9 794.3,895.8 801.2,905.4 808.1,898.3 815,829.9 822,832.5 828.9,1021.9 835.8,1055.8 842.7,954.1 849.6,922.1 856.5,911 863.4,877.9 870.3,984.2 877.2,875.8 884.1,998.3 891,955.9 898,1079.4 904.9,1068 911.8,1071.8 918.7,1047.5 925.6,958.5 932.5,1074.3 939.4,1028.4 946.3,1096.1 953.2,1106.4 960.2,1122.4 967.1,1069.2 974,1072.6 980.9,1055.2 987.8,1029.6 994.7,1022.1 1001.6,1071.4 1008.5,1048.3 1015.4,1074 1022.3,1061.8 1029.2,1022.7 1036.2,1039.4 1043.1,1029.8 1050,964.5 1056.9,816 1063.8,797 1070.7,779.1 1077.6,1064.4 1084.5,1089.4 1091.4,1011.2 1098.3,1083 1105.3,1068.2 1112.2,1041.3 1119.1,1015.1 1126,1033.1 1132.9,1006.8 1139.8,996.8 1146.7,993.7 1153.6,980.9 1160.5,966.9 1167.5,1011.1 1174.4,979.7 1181.3,949.5 1188.2,941.8 1195.1,956 1202,925.4 1208.9,911.8 1215.8,883 1222.7,1029 1229.6,934.2 1236.6,1032.1 1243.5,1084 1250.4,1023.2 1257.3,995.6 1264.2,1006.5 1271.1,1038.5 1278,1110.9 1284.9,1091 1291.8,1095.4 1298.7,1085.9 1305.7,1005.8 1312.6,1005.8 1319.5,980.9 1326.4,964.3 1333.3,927.8 1340.2,959.2 1347.1,961.2 1354,955.3 1360.9,952 1367.8,933.6 1374.8,898.3 1381.7,898.3 1388.6,881.6 1395.5,883.2 1402.4,872.7" fill="none" stroke="#01a4a4" stroke-width="5.8" stroke-linejoin="round"/>
<polyline points="593.9,917 600.8,911.1" fill="none" stroke="#ffcc11" stroke-width="5.8" stroke-linejoin="round"/>
<polyline points="656.1,900.3 663,886.2 669.9,888.8" fill="none" stroke="#ffcc11" stroke-width="5.8" stroke-linejoin="round"/>
<polyline points="711.4,819 718.3,918.9 725.2,911 732.1,901.6 739,890 745.9,869.7" fill="none" stroke="#ffcc11" stroke-width="5.8" stroke-linejoin="round"/>
<polyline points="780.5,907.3 787.4,927.9 794.3,895.8 801.2,905.4 808.1,898.3 815,829.9 822,832.5" fill="none" stroke="#ffcc11" stroke-width="5.8" stroke-linejoin="round"/>
<polyline points="849.6,922.1 856.5,911 863.4,877.9" fill="none" stroke="#ffcc11" stroke-width="5.8" stroke-linejoin="round"/>
<polyline points="1056.9,816 1063.8,797 1070.7,779.1" fill="none" stroke="#ffcc11" stroke-width="5.8" stroke-linejoin="round"/>
<polyline points="1202,925.4 1208.9,911.8 1215.8,883" fill="none" stroke="#ffcc11" stroke-width="5.8" stroke-linejoin="round"/>
<polyline points="1367.8,933.6 1374.8,898.3 1381.7,898.3 1388.6,881.6 1395.5,883.2 1402.4,872.7" fill="none" stroke="#ffcc11" stroke-width="5.8" stroke-linejoin="round"/>
<rect x="590" y="771" width="534" height="95" fill="#ffffff" fill-opacity="0.85"/>
<text x="570.3" y="768.1" font-size="24" fill="#545454" text-anchor="end" textLength="145" lengthAdjust="spacingAndGlyphs" stroke="#545454" stroke-width="0.55">13500000000</text>
<text x="570.3" y="854.2" font-size="24" fill="#545454" text-anchor="end" textLength="145" lengthAdjust="spacingAndGlyphs" stroke="#545454" stroke-width="0.55">13000000000</text>
<text x="570.3" y="942.1" font-size="24" fill="#545454" text-anchor="end" textLength="145" lengthAdjust="spacingAndGlyphs" stroke="#545454" stroke-width="0.55">12500000000</text>
<text x="570.3" y="1028" font-size="24" fill="#545454" text-anchor="end" textLength="145" lengthAdjust="spacingAndGlyphs" stroke="#545454" stroke-width="0.55">12000000000</text>
<text x="570.3" y="1116" font-size="24" fill="#545454" text-anchor="end" textLength="145" lengthAdjust="spacingAndGlyphs" stroke="#545454" stroke-width="0.55">11500000000</text>
<text x="570.3" y="1204.1" font-size="24" fill="#545454" text-anchor="end" textLength="145" lengthAdjust="spacingAndGlyphs" stroke="#545454" stroke-width="0.55">11000000000</text>
<text x="601" y="1240" font-size="24" fill="#545454" text-anchor="middle" textLength="91" lengthAdjust="spacingAndGlyphs" stroke="#545454" stroke-width="0.55">08:30:00</text>
<text x="739.2" y="1240" font-size="24" fill="#545454" text-anchor="middle" textLength="91" lengthAdjust="spacingAndGlyphs" stroke="#545454" stroke-width="0.55">08:40:00</text>
<text x="877.4" y="1240" font-size="24" fill="#545454" text-anchor="middle" textLength="91" lengthAdjust="spacingAndGlyphs" stroke="#545454" stroke-width="0.55">08:50:00</text>
<text x="1015.6" y="1240" font-size="24" fill="#545454" text-anchor="middle" textLength="91" lengthAdjust="spacingAndGlyphs" stroke="#545454" stroke-width="0.55">09:00:00</text>
<text x="1153.8" y="1240" font-size="24" fill="#545454" text-anchor="middle" textLength="91" lengthAdjust="spacingAndGlyphs" stroke="#545454" stroke-width="0.55">09:10:00</text>
<text x="1292" y="1240" font-size="24" fill="#545454" text-anchor="middle" textLength="91" lengthAdjust="spacingAndGlyphs" stroke="#545454" stroke-width="0.55">09:20:00</text>
<rect x="592" y="776" width="20" height="20" fill="#01a4a4"/>
<text x="614.4" y="794.2" font-size="24" fill="#545454" textLength="488.8" lengthAdjust="spacingAndGlyphs" stroke="#545454" stroke-width="0.55">q:* &gt; max(system.memory.actual.used.bytes)</text>
<rect x="592" y="808" width="20" height="20" fill="#ffcc11"/>
<text x="614.4" y="826" font-size="24" fill="#545454" textLength="88.4" lengthAdjust="spacingAndGlyphs" stroke="#545454" stroke-width="0.55">warning</text>
<rect x="592" y="840" width="20" height="20" fill="#ff0000"/>
<text x="614.4" y="857.8" font-size="24" fill="#545454" stroke="#545454" stroke-width="0.55">severe</text>
<line x1="400" y1="738" x2="1460" y2="738" stroke="#cacaca" stroke-width="4" stroke-dasharray="12 12" stroke-dashoffset="3.8"/>
<line x1="400" y1="1268" x2="1460" y2="1268" stroke="#cacaca" stroke-width="4" stroke-dasharray="12 12" stroke-dashoffset="3.8"/>
<line x1="402" y1="736" x2="402" y2="1270" stroke="#cacaca" stroke-width="4" stroke-dasharray="12 12" stroke-dashoffset="3.8"/>
<line x1="1458" y1="736" x2="1458" y2="1270" stroke="#cacaca" stroke-width="4" stroke-dasharray="12 12" stroke-dashoffset="3.8"/>
</svg>
</body></html>
